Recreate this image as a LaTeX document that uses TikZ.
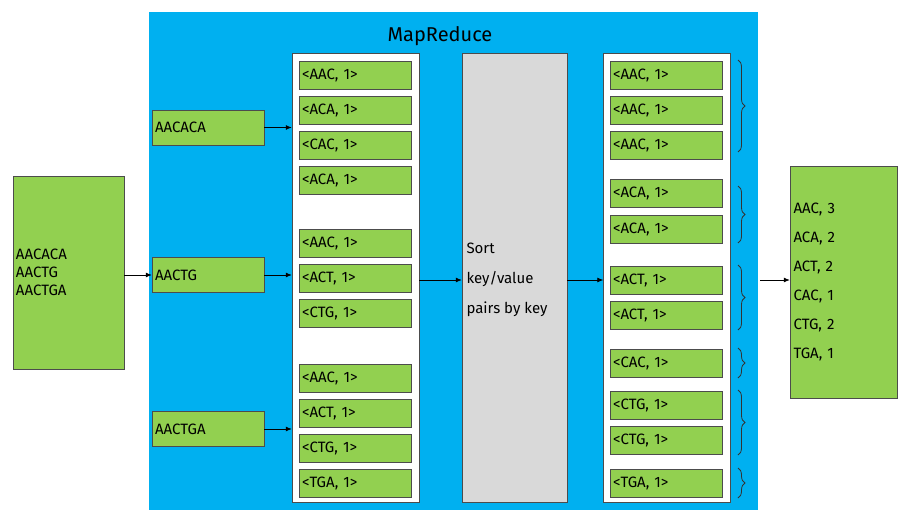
\documentclass[tikz,border=0pt]{standalone}
\usepackage{fontspec}
\setmainfont{Fira Sans}
\usetikzlibrary{decorations.pathreplacing,arrows.meta}
\definecolor{mrblue}{HTML}{00B0F0}
\definecolor{mrgreen}{HTML}{92D050}
\definecolor{mrgray}{HTML}{D9D9D9}
\begin{document}
\begin{tikzpicture}[x=1pt,y=-1pt,
  gbox/.style={draw=black!70,fill=mrgreen,minimum width=112pt,minimum height=28pt,inner sep=2pt,font=\fontsize{15}{18}\selectfont},
  pair/.style={gbox,text width=106pt,align=left},
  col/.style={draw=black!70,fill=white,minimum width=127pt,minimum height=449pt},
  arr/.style={-{Latex[length=6pt,width=5pt]},thick},
  brc/.style={decorate,decoration={brace,amplitude=7pt},thick,draw=black!80}]
\useasboundingbox (0,0) rectangle (915,523);
\node[fill=mrblue,minimum width=609pt,minimum height=498pt,inner sep=0] (blue) at (453.5,261) {};
\node[font=\fontsize{20}{24}\selectfont] (title) at (440,36) {MapReduce};
\node[gbox,minimum width=111pt,minimum height=193pt,align=left,text width=105pt] (in) at (68.5,272.5) {AACACA\\AACTG\\AACTGA};
\node[gbox,text width=106pt,minimum height=35pt] (i1) at (208,127.5) {AACACA};
\node[gbox,text width=106pt,minimum height=35pt] (i2) at (208,275) {AACTG};
\node[gbox,text width=106pt,minimum height=35pt] (i3) at (208,429) {AACTGA};
\node[col] (c1) at (355.5,277.5) {};
\node[draw=black!70,fill=mrgray,minimum width=105pt,minimum height=449pt] (sort) at (514.5,277.5) {};
\node[font=\fontsize{15}{30}\selectfont,align=left,anchor=west] (st) at (463,280) {Sort\\key/value\\pairs by key};
\node[col] (c2) at (667,277.5) {};
\foreach \t/\y [count=\i] in {AAC/75,ACA/110,CAC/145,ACA/180,AAC/243,ACT/278,CTG/313,AAC/378,ACT/413,CTG/448,TGA/483}
  \node[pair] (a\i) at (355,\y) {<\t, 1>};
\foreach \t/\y [count=\i] in {AAC/75,AAC/110,AAC/145,ACA/193,ACA/229,ACT/280,ACT/315,CAC/363,CTG/405,CTG/440,TGA/483}
  \node[pair] (b\i) at (666,\y) {<\t, 1>};
\node[gbox,minimum width=107pt,minimum height=232pt,align=left,text width=100pt,font=\fontsize{15}{29}\selectfont] (out) at (843.5,282) {AAC, 3\\ACA, 2\\ACT, 2\\CAC, 1\\CTG, 2\\TGA, 1};
\foreach \a/\b [count=\i] in {60/152,186/243,265/330,348/378,390/455,468/498}
  \draw[brc] (738,\a) -- (738,\b);
\coordinate (bt) at (760,280);
\draw[arr] (i1.east) -- (i1.east -| c1.west);
\draw[arr] (i2.east) -- (i2.east -| c1.west);
\draw[arr] (i3.east) -- (i3.east -| c1.west);
\draw[arr] (in.east |- i2.east) -- (i2.west);
\draw[arr] (c1.east |- st.west) -- (sort.west |- st.west);
\draw[arr] (sort.east |- st.west) -- (c2.west |- st.west);
\draw[arr] (bt) -- (bt -| out.west);
\end{tikzpicture}
\end{document}
